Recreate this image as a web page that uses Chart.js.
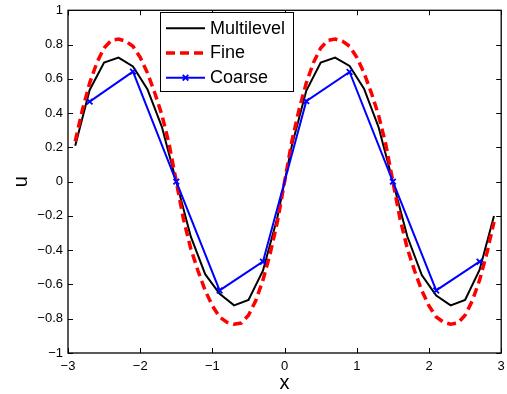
<!DOCTYPE html>
<html><head><meta charset="utf-8">
<script src="https://cdn.jsdelivr.net/npm/chart.js@4/dist/chart.umd.min.js"></script>
<style>html,body{margin:0;padding:0;background:#fff;}#wrap{position:relative;width:507px;height:394px;}</style>
</head><body><div id="wrap"><canvas id="c" width="507" height="394"></canvas></div>
<script>
// ---- data ----
const multilevelX = [-2.9,-2.7,-2.5,-2.3,-2.1,-1.9,-1.7,-1.5,-1.3,-1.1,-0.9,-0.7,-0.5,-0.3,-0.1,0.1,0.3,0.5,0.7,0.9,1.1,1.3,1.5,1.7,1.9,2.1,2.3,2.5,2.7,2.9];
const multilevelY = [0.21,0.535,0.695,0.724,0.672,0.54,0.32,0.0,-0.32,-0.54,-0.655,-0.722,-0.69,-0.52,-0.21,0.21,0.53,0.695,0.724,0.675,0.543,0.32,0.0,-0.32,-0.545,-0.665,-0.722,-0.69,-0.515,-0.2];
const fineX = [-2.9,-2.8,-2.7,-2.6,-2.5,-2.4,-2.3,-2.2,-2.1,-2.0,-1.9,-1.8,-1.7,-1.6,-1.5,-1.4,-1.3,-1.2,-1.1,-1.0,-0.9,-0.8,-0.7,-0.6,-0.5,-0.4,-0.3,-0.2,-0.1,0.0,0.1,0.2,0.3,0.4,0.5,0.6,0.7,0.8,0.9,1.0,1.1,1.2,1.3,1.4,1.5,1.6,1.7,1.8,1.9,2.0,2.1,2.2,2.3,2.4,2.5,2.6,2.7,2.8,2.9];
const fineY = [0.235,0.42,0.575,0.695,0.78,0.825,0.832,0.82,0.79,0.725,0.635,0.52,0.39,0.22,0.0,
  -0.22,-0.39,-0.52,-0.635,-0.725,-0.79,-0.82,-0.832,-0.825,-0.78,-0.695,-0.575,-0.42,-0.235,0.0,
  0.235,0.42,0.575,0.695,0.78,0.825,0.832,0.82,0.79,0.725,0.635,0.52,0.39,0.22,0.0,
  -0.22,-0.39,-0.52,-0.635,-0.725,-0.79,-0.82,-0.832,-0.825,-0.78,-0.695,-0.575,-0.42,-0.235];
const coarseX = [-2.7,-2.1,-1.5,-0.9,-0.3,0.3,0.9,1.5,2.1,2.7];
const coarseY = [0.467,0.642,0.0,-0.635,-0.467,0.47,0.64,0.0,-0.635,-0.467];
const seriesNames = ['Multilevel','Fine','Coarse'];
const xTickValues = [-3,-2,-1,0,1,2,3];
const xTickLabels = ['\u22123','\u22122','\u22121','0','1','2','3'];
const yTickValues = [-1,-0.8,-0.6,-0.4,-0.2,0,0.2,0.4,0.6,0.8,1];
const yTickLabels = ['\u22121','\u22120.8','\u22120.6','\u22120.4','\u22120.2','0','0.2','0.4','0.6','0.8','1'];
const xTitle = 'x';
const yTitle = 'u';

const pts = (xs, ys) => xs.map((x, i) => ({x: x, y: ys[i]}));
const lookup = (vals, labels) => (v) => { const i = vals.findIndex(t => Math.abs(t - v) < 1e-9); return i >= 0 ? labels[i] : ''; };

Chart.defaults.font.family = '"Liberation Sans", Arial, Helvetica, sans-serif';
Chart.defaults.color = '#000';

const frame = {
  id: 'frame',
  afterDatasetsDraw(chart) {
    const {ctx, chartArea: a, scales: {x, y}} = chart;
    const L = 5;
    ctx.save();
    ctx.strokeStyle = '#000';
    ctx.lineWidth = 1;
    ctx.beginPath();
    x.ticks.forEach(t => {
      const px = Math.round(x.getPixelForValue(t.value)) + 0.5;
      ctx.moveTo(px, a.bottom); ctx.lineTo(px, a.bottom - L);
      ctx.moveTo(px, a.top); ctx.lineTo(px, a.top + L);
    });
    y.ticks.forEach(t => {
      const py = Math.round(y.getPixelForValue(t.value)) + 0.5;
      ctx.moveTo(a.left, py); ctx.lineTo(a.left + L, py);
      ctx.moveTo(a.right, py); ctx.lineTo(a.right - L, py);
    });
    ctx.stroke();
    ctx.lineWidth = 1.3;
    ctx.strokeRect(a.left, a.top, a.right - a.left, a.bottom - a.top);
    ctx.restore();
  }
};

const legendBox = {
  id: 'legendBox',
  afterDraw(chart) {
    const ctx = chart.ctx;
    const bx = 160.5, by = 12.5, bw = 133, bh = 79;
    ctx.save();
    ctx.fillStyle = '#fff';
    ctx.fillRect(bx, by, bw, bh);
    ctx.strokeStyle = '#000';
    ctx.lineWidth = 1;
    ctx.strokeRect(bx, by, bw, bh);
    chart.data.datasets.forEach((ds, i) => {
      const yy = 28.3 + i * 24.7;
      ctx.save();
      ctx.strokeStyle = ds.borderColor;
      ctx.lineWidth = ds.borderWidth;
      ctx.setLineDash(ds.borderDash || []);
      ctx.beginPath();
      ctx.moveTo(166, yy); ctx.lineTo(205, yy);
      ctx.stroke();
      ctx.restore();
      if (ds.pointRadius > 0) {
        const r = ds.pointRadius;
        ctx.save();
        ctx.strokeStyle = ds.borderColor;
        ctx.lineWidth = ds.pointBorderWidth;
        ctx.beginPath();
        ctx.moveTo(185.5 - r * 0.7, yy - r * 0.7); ctx.lineTo(185.5 + r * 0.7, yy + r * 0.7);
        ctx.moveTo(185.5 - r * 0.7, yy + r * 0.7); ctx.lineTo(185.5 + r * 0.7, yy - r * 0.7);
        ctx.stroke();
        ctx.restore();
      }
      ctx.fillStyle = '#000';
      ctx.font = '18px "Liberation Sans", Arial, sans-serif';
      ctx.textBaseline = 'middle';
      ctx.textAlign = 'left';
      ctx.fillText(ds.label, 210, yy + 0.5);
    });
    ctx.restore();
  }
};

new Chart(document.getElementById('c'), {
  type: 'line',
  data: {
    datasets: [
      {label: seriesNames[0], data: pts(multilevelX, multilevelY), borderColor: '#000000', borderWidth: 2, pointRadius: 0, tension: 0, fill: false, order: 3},
      {label: seriesNames[1], data: pts(fineX, fineY), borderColor: '#ff0000', borderWidth: 3.5, borderDash: [9, 5], pointRadius: 0, tension: 0, fill: false, order: 2},
      {label: seriesNames[2], data: pts(coarseX, coarseY), borderColor: '#0000ff', borderWidth: 2, pointStyle: 'crossRot', pointRadius: 4, pointBorderWidth: 1.8, pointBorderColor: '#0000ff', pointBackgroundColor: '#0000ff', tension: 0, fill: false, order: 1}
    ]
  },
  options: {
    responsive: false,
    animation: false,
    devicePixelRatio: 1,
    layout: {padding: {top: 10.3, right: 5.5, left: 0, bottom: 0}},
    plugins: {legend: {display: false}, tooltip: {enabled: false}},
    scales: {
      x: {
        type: 'linear', min: -3, max: 3,
        afterBuildTicks: s => { s.ticks = xTickValues.map(v => ({value: v})); },
        afterFit: s => { s.height = 41; s.paddingLeft = 0; s.paddingRight = 0; },
        grid: {display: false, drawTicks: false},
        border: {display: false},
        ticks: {padding: 6, font: {size: 13}, maxRotation: 0, callback: lookup(xTickValues, xTickLabels)},
        title: {display: true, text: xTitle, font: {size: 20, lineHeight: 1}, padding: {top: 0, bottom: 1}}
      },
      y: {
        type: 'linear', min: -1, max: 1,
        afterBuildTicks: s => { s.ticks = yTickValues.map(v => ({value: v})); },
        afterFit: s => { s.width = 68; s.paddingTop = 0; s.paddingBottom = 0; },
        grid: {display: false, drawTicks: false},
        border: {display: false},
        ticks: {padding: 5, font: {size: 13}, callback: lookup(yTickValues, yTickLabels)},
        title: {display: true, text: yTitle, font: {size: 20, lineHeight: 1}, padding: {top: 11, bottom: 0}}
      }
    }
  },
  plugins: [frame, legendBox]
});
</script></body></html>
